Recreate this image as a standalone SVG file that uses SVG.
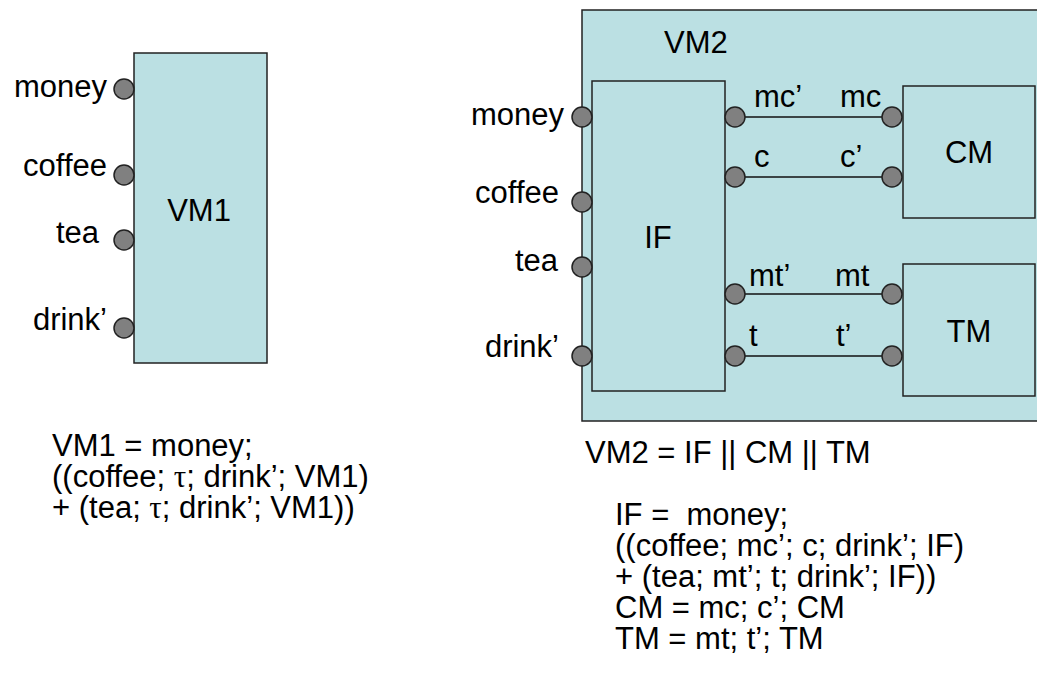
<svg xmlns="http://www.w3.org/2000/svg" width="1037" height="686" viewBox="0 0 1037 686">
  <style>
    .box { fill: #BBE0E3; stroke: #222; stroke-width: 1.5; }
    .port { fill: #808080; stroke: #222; stroke-width: 1.5; }
    .wire { stroke: #111; stroke-width: 1.5; fill: none; }
    text { font-family: "Liberation Sans", Arial, sans-serif; font-size: 31px; fill: #000; }
    .end { text-anchor: end; }
    .mid { text-anchor: middle; }
    .tau { font-family: "Liberation Serif", "Times New Roman", serif; }
  </style>
  <rect width="1037" height="686" fill="#fff"/>

  <!-- VM1 -->
  <g id="vm1">
    <rect class="box" x="134" y="53" width="133" height="310"/>
    <text class="mid" x="199" y="221">VM1</text>
    <circle class="port" cx="124" cy="89" r="10"/>
    <circle class="port" cx="124" cy="175" r="10"/>
    <circle class="port" cx="124" cy="240" r="10"/>
    <circle class="port" cx="124" cy="328" r="10"/>
    <text class="end" x="107" y="97">money</text>
    <text class="end" x="107" y="176">coffee</text>
    <text class="end" x="99" y="243">tea</text>
    <text class="end" x="107" y="330">drink’</text>
  </g>

  <g id="vm1-eq">
    <text x="52" y="456">VM1 = money;</text>
    <text x="52" y="487">((coffee; <tspan class="tau">τ</tspan>; drink’; VM1)</text>
    <text x="52" y="518">+ (tea; <tspan class="tau">τ</tspan>; drink’; VM1))</text>
  </g>

  <!-- VM2 -->
  <g id="vm2">
    <rect class="box" x="582" y="10" width="480" height="411"/>
    <text x="664" y="53">VM2</text>
    <text class="end" x="564" y="125">money</text>
    <text class="end" x="559" y="203">coffee</text>
    <text class="end" x="558" y="271">tea</text>
    <text class="end" x="559" y="357">drink’</text>
  </g>

  <g id="if">
    <rect class="box" x="592" y="81" width="133" height="310"/>
    <text class="mid" x="658" y="248">IF</text>
  </g>

  <g id="cm">
    <rect class="box" x="903" y="86" width="132" height="132"/>
    <text class="mid" x="969" y="163">CM</text>
  </g>

  <g id="tm">
    <rect class="box" x="903" y="264" width="132" height="132"/>
    <text class="mid" x="969" y="342">TM</text>
  </g>

  <g id="connectors">
    <line class="wire" x1="745" y1="117" x2="882" y2="117"/>
    <line class="wire" x1="745" y1="177" x2="882" y2="177"/>
    <line class="wire" x1="745" y1="294" x2="882" y2="294"/>
    <line class="wire" x1="745" y1="356" x2="882" y2="356"/>
    <text x="754" y="107">mc’</text>
    <text x="840" y="107">mc</text>
    <text x="754" y="167">c</text>
    <text x="840" y="167">c’</text>
    <text x="749" y="286">mt’</text>
    <text x="835" y="286">mt</text>
    <text x="749" y="346">t</text>
    <text x="836" y="346">t’</text>
  </g>

  <g id="ports">
    <circle class="port" cx="582" cy="117" r="10"/>
    <circle class="port" cx="582" cy="202" r="10"/>
    <circle class="port" cx="582" cy="267" r="10"/>
    <circle class="port" cx="582" cy="356" r="10"/>
    <circle class="port" cx="735" cy="117" r="10"/>
    <circle class="port" cx="735" cy="177" r="10"/>
    <circle class="port" cx="735" cy="294" r="10"/>
    <circle class="port" cx="735" cy="356" r="10"/>
    <circle class="port" cx="892" cy="117" r="10"/>
    <circle class="port" cx="892" cy="177" r="10"/>
    <circle class="port" cx="892" cy="294" r="10"/>
    <circle class="port" cx="892" cy="356" r="10"/>
  </g>

  <g id="vm2-eq">
    <text x="585" y="463">VM2 = IF || CM || TM</text>
    <text x="615" y="525" xml:space="preserve">IF =  money;</text>
    <text x="615" y="556">((coffee; mc’; c; drink’; IF)</text>
    <text x="615" y="587">+ (tea; mt’; t; drink’; IF))</text>
    <text x="615" y="618">CM = mc; c’; CM</text>
    <text x="615" y="649">TM = mt; t’; TM</text>
  </g>
</svg>
